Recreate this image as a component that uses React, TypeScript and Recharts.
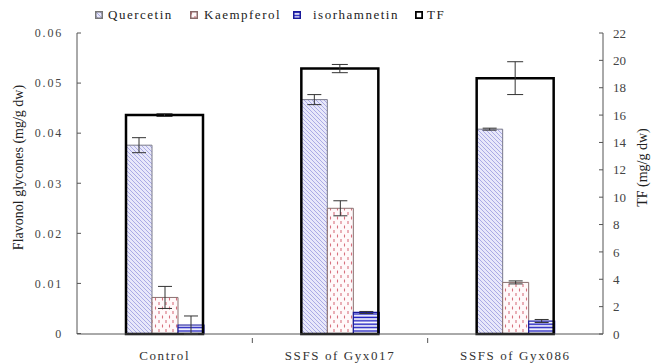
import { ComposedChart, Bar, XAxis, YAxis, ErrorBar, Legend } from "recharts"

// values
const categories = ["Control", "SSFS of Gyx017", "SSFS of Gyx086"]
const quercetin = [0.0376, 0.0467, 0.0408]
const quercetinErr = [0.0015, 0.001, 0.0002]
const kaempferol = [0.0072, 0.025, 0.0102]
const kaempferolErr = [0.0022, 0.0015, 0.0003]
const isorhamnetin = [0.0017, 0.0042, 0.0025]
const isorhamnetinErr = [0.0018, 0.0002, 0.0003]
const tf = [16.0, 19.4, 18.7]
const tfErr = [0.1, 0.3, 1.2]

const leftTicks = [0, 0.01, 0.02, 0.03, 0.04, 0.05, 0.06]
const rightTicks = [0, 2, 4, 6, 8, 10, 12, 14, 16, 18, 20, 22]

const data = categories.map((name, i) => ({
  name,
  q: quercetin[i],
  qErr: quercetinErr[i],
  k: kaempferol[i],
  kErr: kaempferolErr[i],
  iso: isorhamnetin[i],
  isoErr: isorhamnetinErr[i],
  tf: tf[i],
  tfErr: tfErr[i],
}))

const W = 654
const H = 363
const PLOT_LEFT = 77
const PLOT_RIGHT = 603
const BAND = (PLOT_RIGHT - PLOT_LEFT) / categories.length
const SERIF = "'Liberation Serif', serif"

const XTick = (props: any) => {
  const { x, y, payload, index } = props
  return (
    <g>
      <text x={x} y={y + 18} textAnchor="middle" fontFamily={SERIF} fontSize={13} letterSpacing={1.6} fill="#333">
        {payload.value}
      </text>
      {index < categories.length - 1 && (
        <line x1={x + BAND / 2} x2={x + BAND / 2} y1={y - 4} y2={y + 1} stroke="#555" />
      )}
    </g>
  )
}

const legendItems = [
  { label: "Quercetin", fill: "url(#pq)", stroke: "#777", left: 0, gap: 5 },
  { label: "Kaempferol", fill: "url(#pk)", stroke: "#8a6a6a", left: 95, gap: 6 },
  { label: "isorhamnetin", fill: "url(#pi)", stroke: "#1a1a9a", left: 198, gap: 12 },
  { label: "TF", fill: "#fff", stroke: "#000", left: 320, gap: 4 },
]

const renderLegend = () => (
  <div style={{ position: "relative", width: 360, height: 20, fontFamily: SERIF, fontSize: 13, letterSpacing: 1.5, color: "#222" }}>
    {legendItems.map((it) => (
      <div key={it.label} style={{ position: "absolute", left: it.left, top: 0, height: 20, display: "flex", alignItems: "center" }}>
        <svg width={8} height={8} style={{ marginRight: it.gap }}>
          <rect x={0.75} y={0.75} width={6.5} height={6.5} fill={it.fill} stroke={it.stroke} strokeWidth={it.label === "TF" ? 2 : 1.5} />
        </svg>
        <span>{it.label}</span>
      </div>
    ))}
  </div>
)

export default function App() {
  return (
    <div style={{ position: "absolute", left: 0, top: 0, width: W, height: H, background: "#fff" }}>
      <ComposedChart
        width={W}
        height={H}
        data={data}
        margin={{ top: 13, right: 11, left: 17, bottom: 4 }}
        barGap={0}
      >
        <defs>
          <pattern id="pq" patternUnits="userSpaceOnUse" width={4} height={4}>
            <rect width={4} height={4} fill="#e8e8fa" />
            <path d="M-1,-1 L5,5 M-1,3 L1,5 M3,-1 L5,1" stroke="#9c9ce0" strokeWidth={0.8} />
          </pattern>
          <pattern id="pk" patternUnits="userSpaceOnUse" width={7} height={9}>
            <rect width={7} height={9} fill="#fff9fa" />
            <line x1={1.5} x2={1.5} y1={0.5} y2={3.5} stroke="#d8707e" strokeWidth={1.1} />
            <line x1={5} x2={5} y1={5} y2={8} stroke="#d8707e" strokeWidth={1.1} />
          </pattern>
          <pattern id="pi" patternUnits="userSpaceOnUse" width={4} height={3.4}>
            <rect width={4} height={3.4} fill="#fff" />
            <line x1={0} x2={4} y1={1.2} y2={1.2} stroke="#1f1fc0" strokeWidth={1.5} />
          </pattern>
        </defs>
        <Legend
          verticalAlign="top"
          content={renderLegend}
          wrapperStyle={{ top: 5, left: 95, width: 360 }}
        />
        <XAxis
          xAxisId="g"
          dataKey="name"
          axisLine={{ stroke: "#555" }}
          tickLine={false}
          tick={<XTick />}
          height={25}
          interval={0}
        />
        <XAxis xAxisId="t" dataKey="name" hide />
        <YAxis
          yAxisId="left"
          domain={[0, 0.06]}
          ticks={leftTicks}
          width={60}
          axisLine={{ stroke: "#555" }}
          tickLine={{ stroke: "#555" }}
          tickSize={-4}
          tickMargin={18}
          tickFormatter={(v: number) => (v === 0 ? "0" : v.toFixed(2))}
          tick={{ fontFamily: SERIF, fontSize: 12, letterSpacing: 1.8, fill: "#444" }}
          label={{
            content: ({ viewBox }: any) => {
              const cx = viewBox.x + 1
              const cy = viewBox.y + viewBox.height / 2 - 16
              return (
                <text x={cx} y={cy} transform={`rotate(-90 ${cx} ${cy})`} textAnchor="middle" dominantBaseline="central" fontFamily={SERIF} fontSize={14} fill="#222">
                  Flavonol glycones (mg/g dw)
                </text>
              )
            },
          }}
        />
        <YAxis
          yAxisId="right"
          orientation="right"
          domain={[0, 22]}
          ticks={rightTicks}
          width={40}
          axisLine={{ stroke: "#555" }}
          tickLine={{ stroke: "#555" }}
          tickSize={-4}
          tickMargin={14}
          tick={{ fontFamily: SERIF, fontSize: 13, fill: "#444" }}
          label={{
            content: ({ viewBox }: any) => {
              const cx = viewBox.x + 39
              const cy = viewBox.y + viewBox.height / 2 - 16
              return (
                <text x={cx} y={cy} transform={`rotate(-90 ${cx} ${cy})`} textAnchor="middle" dominantBaseline="central" fontFamily={SERIF} fontSize={14} fill="#222">
                  TF (mg/g dw)
                </text>
              )
            },
          }}
        />
        <Bar xAxisId="g" yAxisId="left" dataKey="q" barSize={26} fill="url(#pq)" stroke="#7a7a8a" strokeWidth={1} isAnimationActive={false}>
          <ErrorBar dataKey="qErr" direction="y" width={7} stroke="#333" strokeWidth={1} />
        </Bar>
        <Bar xAxisId="g" yAxisId="left" dataKey="k" barSize={26} fill="url(#pk)" stroke="#8a7070" strokeWidth={1} isAnimationActive={false}>
          <ErrorBar dataKey="kErr" direction="y" width={7} stroke="#333" strokeWidth={1} />
        </Bar>
        <Bar xAxisId="g" yAxisId="left" dataKey="iso" barSize={26} fill="url(#pi)" stroke="#1a1a9a" strokeWidth={1.2} isAnimationActive={false}>
          <ErrorBar dataKey="isoErr" direction="y" width={7} stroke="#333" strokeWidth={1} />
        </Bar>
        <Bar xAxisId="t" yAxisId="right" dataKey="tf" barSize={77} fill="none" stroke="#000" strokeWidth={2.5} isAnimationActive={false}>
          <ErrorBar dataKey="tfErr" direction="y" width={8} stroke="#333" strokeWidth={1} />
        </Bar>
      </ComposedChart>
    </div>
  )
}
